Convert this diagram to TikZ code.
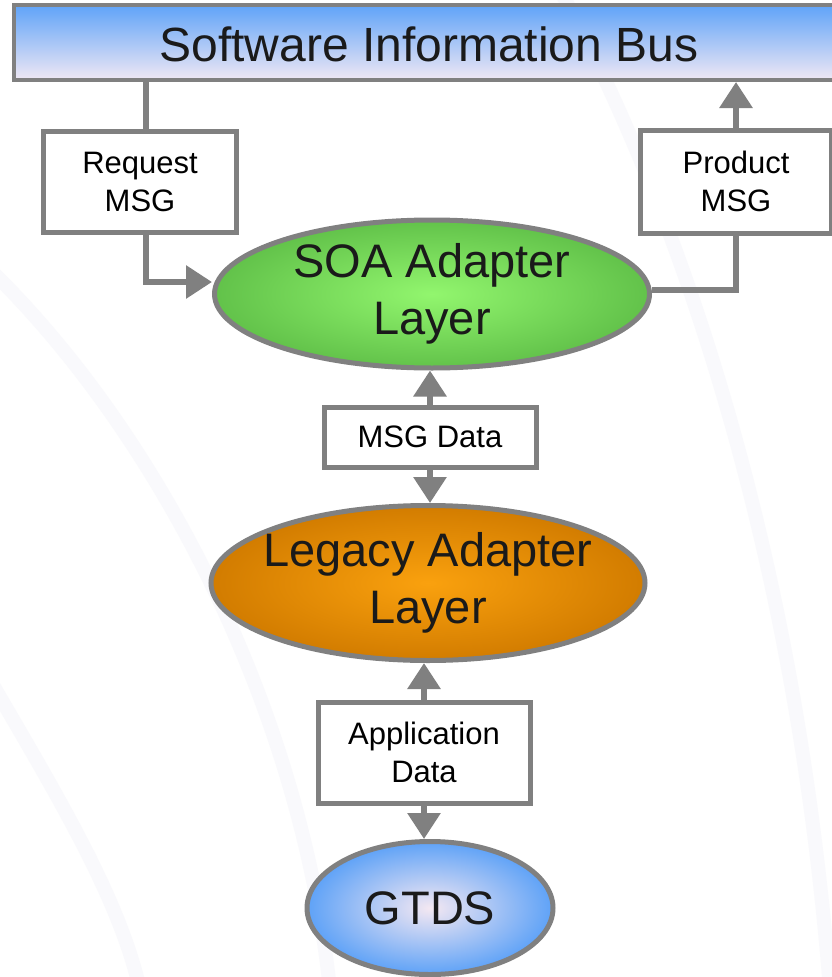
\documentclass[tikz,border=0pt]{standalone}
\usepackage{fontspec}
\setmainfont{Liberation Sans}
\usetikzlibrary{shapes.geometric,arrows.meta}

\definecolor{linegray}{HTML}{808080}
\definecolor{textgray}{HTML}{1A1A1A}
\definecolor{swirl}{HTML}{F9F9FC}
\definecolor{bustop}{HTML}{5FA3F8}
\definecolor{busbot}{HTML}{F0E8F4}
\definecolor{soain}{HTML}{92F66E}
\definecolor{soaout}{HTML}{62C24A}
\definecolor{legin}{HTML}{FAA10E}
\definecolor{legout}{HTML}{D27C00}
\definecolor{gtdsin}{HTML}{F4E8F2}
\definecolor{gtdsout}{HTML}{5EA2F7}

\begin{document}
\begin{tikzpicture}[x=1pt,y=-1pt,
  msgbox/.style={draw=linegray,line width=5pt,fill=white,rectangle,align=center,
    inner sep=0pt,font=\fontsize{31}{38}\selectfont},
  layer/.style={draw=linegray,line width=5pt,ellipse,align=center,
    inner xsep=-30pt,inner ysep=-10pt,
    text=textgray,font=\fontsize{47}{57}\selectfont},
  link/.style={draw=linegray,line width=6pt},
  tip/.style={-{Triangle[width=32pt,length=26pt]}}]
  \useasboundingbox[fill=white] (0,0) rectangle (832,977);

  % faint background swirls
  \draw[swirl,line width=14pt] (-20,260) .. controls (150,420) and (300,700) .. (330,990);
  \draw[swirl,line width=14pt] (560,-10) .. controls (700,250) and (800,600) .. (830,990);
  \draw[swirl,line width=14pt] (-10,680) .. controls (60,800) and (120,900) .. (140,990);

  \node[draw=linegray,line width=4pt,top color=bustop,bottom color=busbot,
    minimum width=831pt,minimum height=75pt,inner sep=0pt] (bus) at (429.5,42.5) {};
  \node[text=textgray,font=\fontsize{48}{57}\selectfont] (bustext) at (429,44) {Software Information Bus};

  \node[msgbox,minimum width=193pt,minimum height=101pt] (req) at (140,181.5) {Request\\MSG};
  \node[msgbox,minimum width=191pt,minimum height=103pt] (prod) at (736,181.5) {Product\\MSG};

  \node[layer,inner color=soain,outer color=soaout,
    minimum width=435pt,minimum height=148pt] (soa) at (432,294) {SOA Adapter\\Layer};

  \node[msgbox,minimum width=212pt,minimum height=60pt] (msg) at (430,437) {MSG Data};

  \node[layer,inner color=legin,outer color=legout,
    minimum width=434pt,minimum height=155pt] (legacy) at (428,583) {Legacy Adapter\\Layer};

  \node[msgbox,minimum width=212pt,minimum height=101pt] (app) at (424,752.5) {Application\\Data};

  \node[layer,inner color=gtdsin,outer color=gtdsout,
    minimum width=246pt,minimum height=133pt] (gtds) at (430,908) {GTDS};

  % bus side
  \draw[link] ([xshift=6pt]req.north) -- ([xshift=6pt]req.north |- bus.south);
  \draw[link,tip] ([xshift=6pt]req.south) |- ([yshift=12pt]soa.west);
  \draw[link,tip] (prod.north) -- (prod.north |- bus.south);
  \draw[link] (prod.south) |- ([yshift=4pt]soa.east);

  % down the stack
  \draw[link,tip] (msg.north) -- (msg.north |- soa.south);
  \draw[link,tip] (msg.south) -- (msg.south |- legacy.north);
  \draw[link,tip] (app.north) -- (app.north |- legacy.south);
  \draw[link,tip] (app.south) -- (app.south |- gtds.north);
\end{tikzpicture}
\end{document}
